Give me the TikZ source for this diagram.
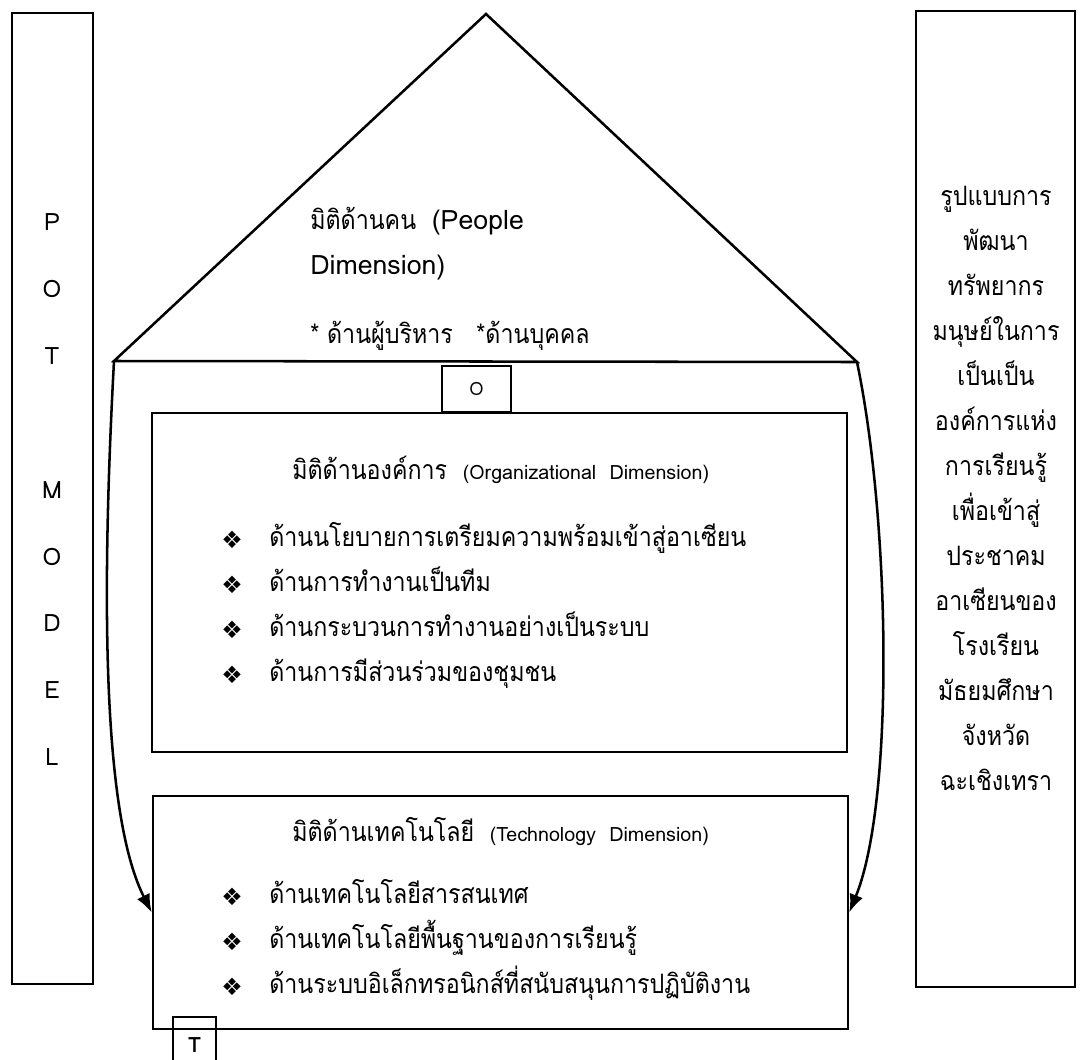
\documentclass[tikz,border=0pt]{standalone}
\usepackage{fontspec}
\setmainfont[Script=Thai, FakeStretch=0.87]{Loma}
\newfontfamily\latfont{Loma}
\newfontfamily\symfont{DejaVu Sans}
\usetikzlibrary{arrows.meta}

\tikzset{
  frame/.style={draw, line width=1.8pt},
  thai/.style={inner sep=0pt, font=\fontsize{19}{32}\selectfont},
  small/.style={inner sep=0pt, font=\latfont\fontsize{13}{16}\selectfont},
  letter/.style={inner sep=0pt, font=\latfont\fontsize{17}{20}\selectfont},
  dia/.style={inner sep=0pt, font=\symfont\fontsize{17}{18}\selectfont},
  link/.style={line width=1.8pt, -{Latex[length=13pt,width=10pt]}}
}
\newcommand\engl[1]{{\latfont\fontsize{14}{16}\selectfont #1}}

\begin{document}
\begin{tikzpicture}[x=0.025cm, y=-0.025cm]
\useasboundingbox (0,0) rectangle (1080,1060);

% side boxes
\draw[frame] (12,13) rectangle (93,984);
\draw[frame] (916,11) rectangle (1075,987);

\node[letter] at (52,222) (p1) {P};
\node[letter] at (52,289) (p2) {O};
\node[letter] at (52,356) (p3) {T};
\node[letter] at (52,490) (p4) {M};
\node[letter] at (52,557) (p5) {O};
\node[letter] at (52,623) (p6) {D};
\node[letter] at (52,690) (p7) {E};
\node[letter] at (52,757) (p8) {L};

\node[thai, align=center] at (996,488) (goal) {รูปแบบการ\\พัฒนา\\ทรัพยากร\\มนุษย์ในการ\\เป็นเป็น\\องค์การแห่ง\\การเรียนรู้\\เพื่อเข้าสู่\\ประชาคม\\อาเซียนของ\\โรงเรียน\\มัธยมศึกษา\\จังหวัด\\ฉะเชิงเทรา};

% people (roof)
\coordinate (roofL) at (114,361);
\coordinate (roofT) at (486,14);
\coordinate (roofR) at (857,362);
\draw[frame, line join=miter] (roofL) -- (roofT) -- (roofR) -- cycle;

\node[thai, anchor=base west] at (310,229) (pp1) {มิติด้านคน\ \ {\latfont(People}};
\node[thai, anchor=base west] at (310,274) (pp2) {\latfont Dimension)};
\node[thai, anchor=base west] at (310,343) (pp3) {*\ ด้านผู้บริหาร\ \ \ *ด้านบุคคล};

% organization
\node[frame, minimum width=69*0.025cm, minimum height=46*0.025cm] at (476.5,389) (obox) {};
\node[small] at (obox) (olbl) {O};
\draw[frame] (152,413) rectangle (847,752);
\node[thai, anchor=base west] at (292,479) (org) {มิติด้านองค์การ\ \ \engl{(Organizational\ \ Dimension)}};
\node[dia] at (232,540) (o1) {❖};
\node[thai, anchor=base west] at (269,546) {ด้านนโยบายการเตรียมความพร้อมเข้าสู่อาเซียน};
\node[dia] at (232,585) (o2) {❖};
\node[thai, anchor=base west] at (269,591) {ด้านการทำงานเป็นทีม};
\node[dia] at (232,630) (o3) {❖};
\node[thai, anchor=base west] at (269,636) {ด้านกระบวนการทำงานอย่างเป็นระบบ};
\node[dia] at (232,675) (o4) {❖};
\node[thai, anchor=base west] at (269,681) {ด้านการมีส่วนร่วมของชุมชน};

% technology
\node[frame, minimum width=695*0.025cm, minimum height=233*0.025cm] at (500.5,912.5) (tech) {};
\node[thai, anchor=base west] at (292,841) (techtitle) {มิติด้านเทคโนโลยี\ \ \engl{(Technology\ \ Dimension)}};
\node[dia] at (232,897) (t1) {❖};
\node[thai, anchor=base west] at (269,903) {ด้านเทคโนโลยีสารสนเทศ};
\node[dia] at (232,942) (t2) {❖};
\node[thai, anchor=base west] at (269,948) {ด้านเทคโนโลยีพื้นฐานของการเรียนรู้};
\node[dia] at (232,987) (t3) {❖};
\node[thai, anchor=base west] at (269,993) {ด้านระบบอิเล็กทรอนิกส์ที่สนับสนุนการปฏิบัติงาน};

\draw[frame] (173,1060) |- (216,1017) -- (216,1060);
\node[letter, font=\latfont\bfseries\fontsize{15}{16}\selectfont] at (194.5,1045) (tlbl) {T};

% links
\draw[link] (roofL) .. controls (100,620) and (105,820) .. (tech.west);
\draw[link] (roofR) .. controls (890,520) and (895,800) .. (tech.east);
\end{tikzpicture}
\end{document}
